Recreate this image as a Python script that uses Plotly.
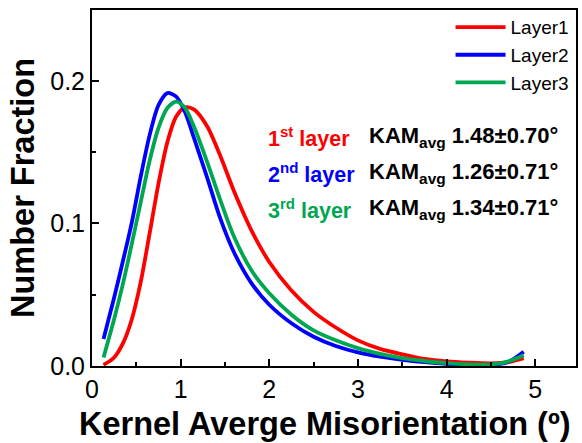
import plotly.graph_objects as go

# Kernel average misorientation (degrees)
kam_x = [0.13, 0.25, 0.35, 0.45, 0.55, 0.65, 0.75, 0.85, 0.95, 1.05, 1.15, 1.3,
         1.45, 1.6, 1.8, 2.0, 2.25, 2.5, 2.75, 3.0, 3.25, 3.5, 3.75, 4.0, 4.25,
         4.5, 4.7, 4.87]

# Number fraction per layer
layer1 = [0.0008, 0.006, 0.016, 0.033, 0.059, 0.093, 0.128, 0.157, 0.175, 0.1815,
          0.180, 0.168, 0.147, 0.123, 0.095, 0.073, 0.053, 0.038, 0.027, 0.018,
          0.012, 0.0082, 0.0050, 0.0033, 0.0024, 0.0019, 0.0028, 0.0055]
layer2 = [0.019, 0.048, 0.074, 0.101, 0.133, 0.162, 0.183, 0.1915, 0.189, 0.178,
          0.160, 0.132, 0.103, 0.080, 0.058, 0.043, 0.030, 0.0205, 0.014, 0.0095,
          0.0065, 0.0043, 0.0027, 0.0015, 0.0008, 0.0006, 0.003, 0.010]
layer3 = [0.006, 0.033, 0.058, 0.086, 0.115, 0.144, 0.167, 0.181, 0.1855, 0.181,
          0.168, 0.143, 0.116, 0.091, 0.067, 0.051, 0.036, 0.025, 0.018, 0.0125,
          0.0085, 0.0055, 0.0035, 0.002, 0.0012, 0.0011, 0.0033, 0.0075]

series_names = ["Layer1", "Layer2", "Layer3"]
series_colors = ["#ff0000", "#0000ff", "#00a650"]
layer_labels = ["1<sup>st</sup> layer", "2<sup>nd</sup> layer", "3<sup>rd</sup> layer"]
kam_labels = ["KAM<sub>avg</sub> 1.48±0.70°", "KAM<sub>avg</sub> 1.26±0.71°",
              "KAM<sub>avg</sub> 1.34±0.71°"]
x_title = "Kernel Averge Misorientation (º)"
y_title = "Number Fraction"

x_ticks = [0, 1, 2, 3, 4, 5]
y_ticks = [0.0, 0.1, 0.2]

fig = go.Figure()
for name, ys, color in zip(series_names, [layer1, layer2, layer3], series_colors):
    fig.add_trace(go.Scatter(
        x=kam_x, y=ys, name=name, mode="lines",
        line=dict(color=color, width=3.8, shape="spline", smoothing=0.8),
    ))

font_family = "Liberation Sans, Arial, sans-serif"

row_y = [0.643, 0.542, 0.441]
for lbl, kam, color, yy in zip(layer_labels, kam_labels, series_colors, row_y):
    fig.add_annotation(x=0.36, y=yy, xref="paper", yref="paper", text=lbl,
                       showarrow=False, xanchor="left", yanchor="middle",
                       font=dict(family=font_family, size=21.5, color=color, weight="bold"))
    fig.add_annotation(x=0.568, y=yy, xref="paper", yref="paper", text=kam,
                       showarrow=False, xanchor="left", yanchor="middle",
                       font=dict(family=font_family, size=22, color="black", weight="bold"))

# x-axis title, set slightly left of the plot centre
fig.add_annotation(x=0.481, y=-0.163, xref="paper", yref="paper", text=x_title,
                   showarrow=False, xanchor="center", yanchor="middle",
                   font=dict(family=font_family, size=32.5, color="black", weight="bold"))

axis_common = dict(
    showline=True, linecolor="black", linewidth=2, mirror=True,
    ticks="inside", ticklen=7, tickwidth=2, tickcolor="black",
    showgrid=False, zeroline=False,
    tickfont=dict(family=font_family, size=25, color="black"),
)

fig.update_xaxes(
    range=[0, 5.46], tickvals=x_ticks, ticktext=[str(v) for v in x_ticks],
    minor=dict(ticks="inside", ticklen=4, tickwidth=2, tickcolor="black", dtick=0.5),
    **axis_common,
)
fig.update_yaxes(
    range=[0, 0.2498], tickvals=y_ticks, ticktext=["0.0", "0.1", "0.2"],
    minor=dict(ticks="inside", ticklen=4, tickwidth=2, tickcolor="black", dtick=0.05),
    title=dict(text=y_title, standoff=6,
               font=dict(family=font_family, size=32.5, color="black", weight="bold")),
    **axis_common,
)

fig.update_layout(
    width=582, height=443,
    margin=dict(l=92, r=4, t=10, b=77),
    plot_bgcolor="white", paper_bgcolor="white",
    showlegend=True,
    legend=dict(x=0.997, y=1.005, xanchor="right", yanchor="top",
                bgcolor="rgba(0,0,0,0)", itemwidth=50, tracegroupgap=0,
                font=dict(family=font_family, size=19, color="black")),
)

fig.write_html("out.html")
